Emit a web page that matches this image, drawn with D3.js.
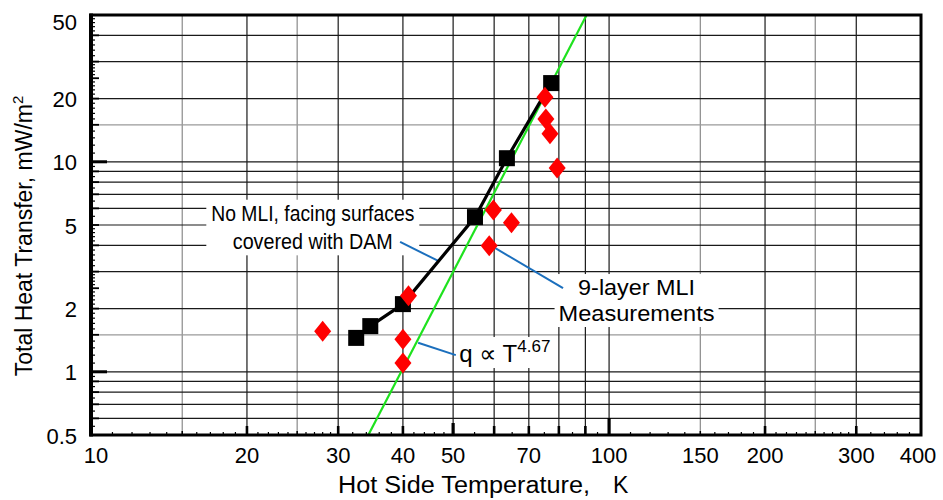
<!DOCTYPE html>
<html><head><meta charset="utf-8">
<script src="https://cdn.jsdelivr.net/npm/d3@7"></script>
<style>
body{margin:0;background:#fff}
svg{display:block;font-family:"Liberation Sans",Arial,Helvetica,sans-serif}
</style>
</head><body>
<svg id="chart" width="943" height="500"></svg>
<script>
// No MLI, facing surfaces covered with DAM (black squares, joined)
const damTemps = [32.5, 34.6, 40.0, 55.1, 63.5, 77.3];
const damHeat  = [1.45, 1.65, 2.10, 5.45, 10.4, 23.7];

// 9-layer MLI measurements (red diamonds)
const mliTemps = [28.0, 41.0, 40.0, 40.0, 58.7, 59.8, 64.8, 75.2, 75.5, 76.9, 79.4];
const mliHeat  = [1.56, 2.30, 1.43, 1.10, 3.98, 5.89, 5.13, 20.3, 16.0, 13.6, 9.33];

// q ∝ T^4.67 reference line, end points
const fitTemps = [34.3, 90.5];
const fitHeat  = [0.5, 50];

// axis labels
const xTickLabels = [10, 20, 30, 40, 50, 70, 100, 150, 200, 300, 400];
const yTickLabels = [0.5, 1, 2, 5, 10, 20, 50];

// grid lines
const xGridDark  = [20, 30, 40, 50, 60, 70, 80, 90, 100, 200, 300];
const xGridLight = [15, 25, 150, 250];
const yGridDark  = [0.6, 0.7, 0.8, 0.9, 1, 2, 3, 4, 5, 6, 7, 8, 9, 10, 20, 30, 40];
const yGridLight = [1.5, 15];

// tick marks along the bottom axis
const xTicksBig    = [50, 100];
const xTicksMid    = [20, 30, 40, 60, 70, 80, 90, 200, 300];
const xTicksSmall  = [15, 25, 150, 250];
const xTicksMinor  = [11, 12, 13, 14, 16, 17, 18, 19, 21, 22, 23, 24, 26, 27, 28, 29,
                      32, 34, 36, 38, 42, 44, 46, 48, 55, 65, 75, 85, 95,
                      110, 120, 130, 140, 160, 170, 180, 190,
                      210, 220, 230, 240, 260, 270, 280, 290, 320, 340, 360, 380];

// tick marks along the left axis
const yTicksLong  = [1, 10];
const yTicksMid   = [0.5, 0.6, 0.7, 0.8, 0.9, 1.5, 2, 2.5, 3, 4, 5, 6, 7, 8, 9, 15, 20, 25, 30, 40, 50];
const yTicksMinor = [0.55, 0.65, 0.75, 0.85, 0.95, 1.1, 1.2, 1.3, 1.4, 1.6, 1.7, 1.8, 1.9,
                     2.1, 2.2, 2.3, 2.4, 2.6, 2.7, 2.8, 2.9, 3.2, 3.4, 3.6, 3.8,
                     4.2, 4.4, 4.6, 4.8, 5.5, 6.5, 7.5, 8.5, 9.5,
                     11, 12, 13, 14, 16, 17, 18, 19, 21, 22, 23, 24, 26, 27, 28, 29,
                     32, 34, 36, 38, 42, 44, 46, 48];

const W = 943, H = 500;
const m = {left: 91, right: 22, top: 15, bottom: 65};
const svg = d3.select("#chart");

const x = d3.scaleLog().domain([10, 400]).range([m.left, W - m.right]);
const y = d3.scaleLog().domain([0.5, 50]).range([H - m.bottom, m.top]);
const [x0, x1] = x.range();
const [y0, y1] = y.range();

// ---- grid ----
const grid = svg.append("g");
grid.selectAll(".gxl").data(xGridLight).join("line")
  .attr("x1", d => x(d)).attr("x2", d => x(d)).attr("y1", y0).attr("y2", y1)
  .attr("stroke", "#8a8a8a").attr("stroke-width", 1.2);
grid.selectAll(".gyl").data(yGridLight).join("line")
  .attr("y1", d => y(d)).attr("y2", d => y(d)).attr("x1", x0).attr("x2", x1)
  .attr("stroke", "#9a9a9a").attr("stroke-width", 1.2);
grid.selectAll(".gxd").data(xGridDark).join("line")
  .attr("x1", d => x(d)).attr("x2", d => x(d)).attr("y1", y0).attr("y2", y1)
  .attr("stroke", "#1a1a1a").attr("stroke-width", 1.2);
grid.selectAll(".gyd").data(yGridDark).join("line")
  .attr("y1", d => y(d)).attr("y2", d => y(d)).attr("x1", x0).attr("x2", x1)
  .attr("stroke", "#1a1a1a").attr("stroke-width", 1.2);

// ---- annotations with white backing (one text element per label) ----
const ann = svg.append("g");
function label(lines, size, padX, padY) {
  const g = ann.append("g");
  const bg = g.append("rect").attr("fill", "#fff");
  const tx = g.append("text")
    .attr("text-anchor", "middle")
    .attr("font-size", size)
    .attr("fill", "#000");
  lines.forEach(l => {
    (l.parts || [{text: l.text}]).forEach((p, j) => {
      const s = tx.append("tspan").text(p.text);
      if (j === 0) {
        s.attr("x", x(l.T)).attr("y", y(l.q));
        if (l.len) s.attr("textLength", l.len).attr("lengthAdjust", "spacingAndGlyphs");
      }
      if (p.family) s.attr("font-family", p.family);
      if (p.sup) s.attr("dy", -10).attr("font-size", 17);
    });
  });
  const b = tx.node().getBBox();
  bg.attr("x", b.x - padX).attr("y", b.y - padY)
    .attr("width", b.width + 2 * padX).attr("height", b.height + 2 * padY);
}
label([
  {text: "No MLI, facing surfaces", T: 26.8, q: 5.24, len: 203},
  {text: "covered with DAM", T: 26.8, q: 3.83, len: 160}
], 22, 5, 1);
label([
  {text: "9-layer MLI", T: 113, q: 2.32, len: 117},
  {text: "Measurements", T: 113, q: 1.745, len: 156}
], 22, 4, 1);
label([
  {parts: [{text: "q "}, {text: "\u221d", family: "DejaVu Sans"}, {text: " T"}, {text: "4.67", sup: true}],
   T: 62.9, q: 1.113}
], 24, 3, 0);

// leader lines
const leaders = [
  [[39.5, 4.16], [46.8, 3.37]],
  [[60.2, 3.89], [81.5, 2.50]],
  [[42.8, 1.375], [50.6, 1.20]]
];
svg.append("g").selectAll("line").data(leaders).join("line")
  .attr("x1", d => x(d[0][0])).attr("y1", d => y(d[0][1]))
  .attr("x2", d => x(d[1][0])).attr("y2", d => y(d[1][1]))
  .attr("stroke", "#1b6fbd").attr("stroke-width", 2);

// ---- data ----
const plot = svg.append("g");
const clipId = "plotclip";
svg.append("clipPath").attr("id", clipId).append("rect")
  .attr("x", x0).attr("y", y1).attr("width", x1 - x0).attr("height", y0 - y1);

plot.append("path")
  .datum(fitTemps.map((t, i) => [t, fitHeat[i]]))
  .attr("clip-path", `url(#${clipId})`)
  .attr("fill", "none").attr("stroke", "#1ee21e").attr("stroke-width", 2.2)
  .attr("d", d3.line().x(d => x(d[0])).y(d => y(d[1])));

plot.append("path")
  .datum(damTemps.map((t, i) => [t, damHeat[i]]))
  .attr("fill", "none").attr("stroke", "#000").attr("stroke-width", 3.2)
  .attr("stroke-linejoin", "round")
  .attr("d", d3.line().x(d => x(d[0])).y(d => y(d[1])));

const sq = 16;
plot.selectAll(".sq").data(damTemps.map((t, i) => [t, damHeat[i]])).join("rect")
  .attr("x", d => x(d[0]) - sq / 2).attr("y", d => y(d[1]) - sq / 2)
  .attr("width", sq).attr("height", sq).attr("fill", "#000");

const dw = 8.5, dh = 10.5;
plot.selectAll(".dm").data(mliTemps.map((t, i) => [t, mliHeat[i]])).join("path")
  .attr("transform", d => `translate(${x(d[0])},${y(d[1])})`)
  .attr("d", `M0,${-dh}L${dw},0L0,${dh}L${-dw},0Z`)
  .attr("fill", "#ff0000");

// ---- axis ticks ----
const ticks = svg.append("g").attr("fill", "#000");
function xTicks(vals, len, w) {
  ticks.selectAll(null).data(vals).join("rect")
    .attr("x", d => x(d) - w / 2).attr("y", y0 - len).attr("width", w).attr("height", len);
}
xTicks(xTicksMinor, 3, 1.2);
xTicks(xTicksSmall, 4, 1.5);
xTicks(xTicksMid, 9, 2.6);
ticks.selectAll(null).data(xTicksBig).join("rect")
  .attr("x", d => x(d) - 1.6).attr("y", d => y0 - (d === 100 ? 17 : 12))
  .attr("width", 3.2).attr("height", d => d === 100 ? 17 : 12);

function yTicks(vals, len, w) {
  ticks.selectAll(null).data(vals).join("rect")
    .attr("x", x0).attr("y", d => y(d) - w / 2).attr("width", len).attr("height", w);
}
yTicks(yTicksMinor, 4, 1.2);
yTicks(yTicksMid, 8, 1.8);
yTicks(yTicksLong, 16, 3);

// ---- frame ----
svg.append("rect")
  .attr("x", x0).attr("y", y1).attr("width", x1 - x0).attr("height", y0 - y1)
  .attr("fill", "none").attr("stroke", "#000").attr("stroke-width", 3);
svg.append("line").attr("x1", x0).attr("x2", x0).attr("y1", y1 - 1.5).attr("y2", y0 + 1.5)
  .attr("stroke", "#000").attr("stroke-width", 4);

// ---- tick labels ----
svg.append("g").selectAll("text").data(xTickLabels).join("text")
  .attr("x", d => x(d) + (d === 10 ? 5 : d === 400 ? -3 : 0))
  .attr("y", y0 + 28)
  .attr("text-anchor", "middle").attr("font-size", 22).attr("fill", "#000")
  .text(d => d);

svg.append("g").selectAll("text").data(yTickLabels).join("text")
  .attr("x", x0 - 14)
  .attr("y", d => y(d) + (d === 50 ? 14.5 : 8.5))
  .attr("text-anchor", "end").attr("font-size", 22).attr("fill", "#000")
  .text(d => d);

// ---- axis titles ----
const xt = svg.append("text").attr("y", 493).attr("font-size", 23).attr("fill", "#000");
xt.append("tspan").attr("x", 338).attr("textLength", 252).attr("lengthAdjust", "spacingAndGlyphs")
  .text("Hot Side Temperature,");
xt.append("tspan").attr("x", 613).text("K");

const yt = svg.append("text")
  .attr("transform", "translate(32,236) rotate(-90)")
  .attr("text-anchor", "middle").attr("font-size", 23).attr("fill", "#000");
yt.append("tspan").text("Total Heat Transfer, mW/m");
yt.append("tspan").attr("dy", -9).attr("font-size", 15).text("2");
</script>
</body></html>
